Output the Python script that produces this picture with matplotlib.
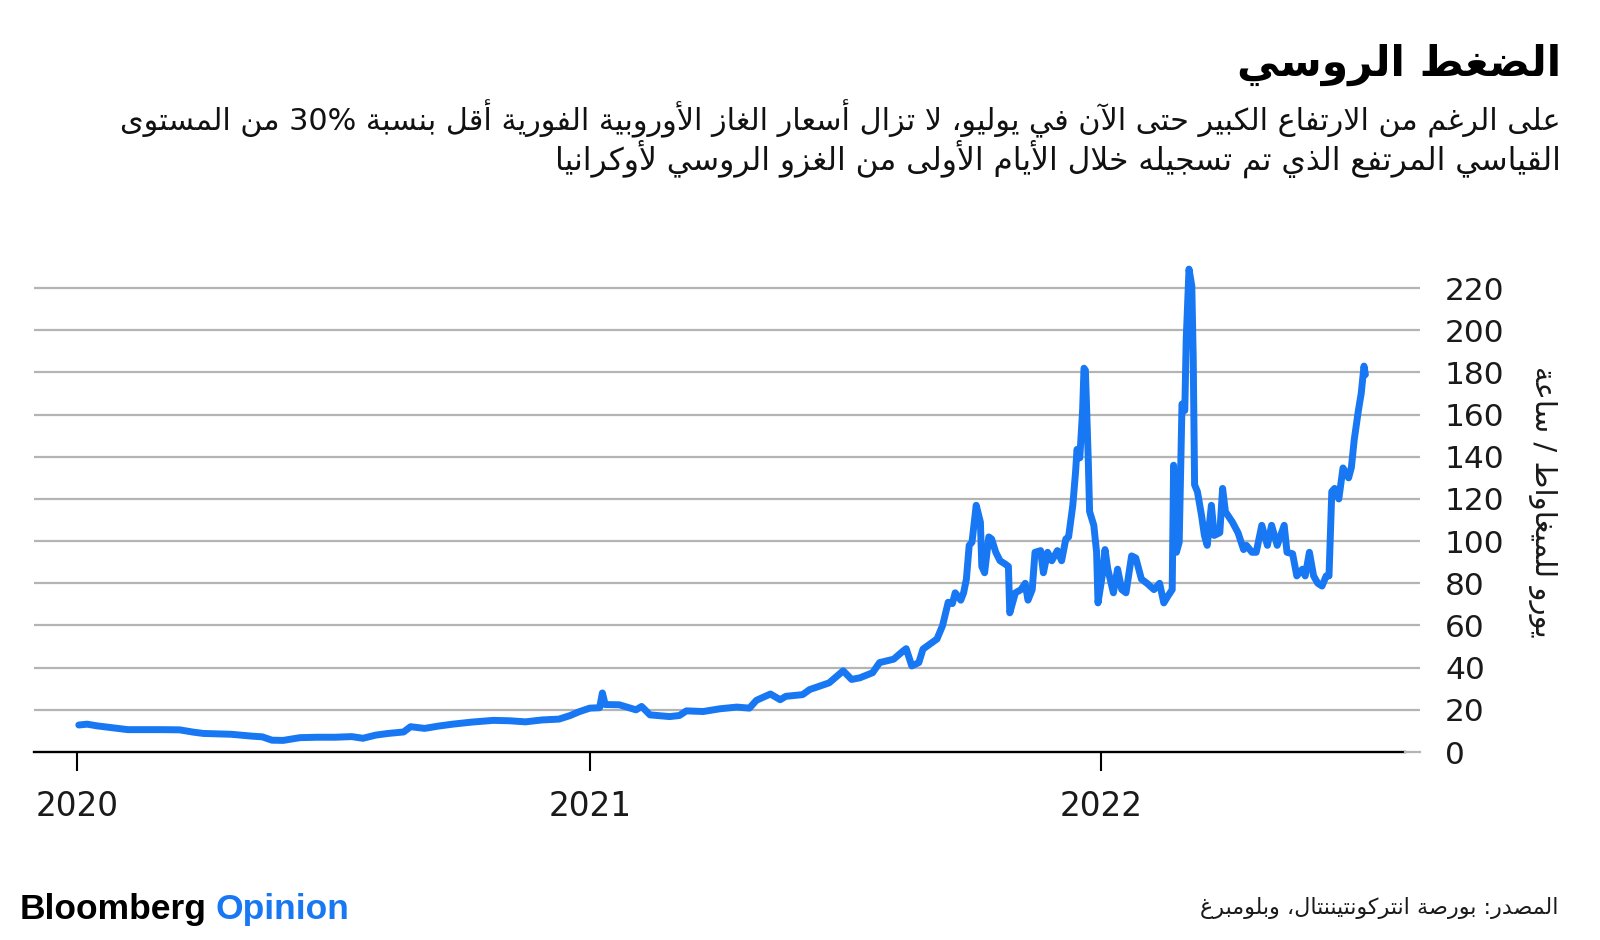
import re
import matplotlib
matplotlib.use("Agg")
import matplotlib.pyplot as plt
import pandas as pd

# ---------------- text (logical order) ----------------
TITLE = "الضغط الروسي"
SUBTITLE_1 = "على الرغم من الارتفاع الكبير حتى الآن في يوليو، لا تزال أسعار الغاز الأوروبية الفورية أقل بنسبة 30% من المستوى"
SUBTITLE_2 = "القياسي المرتفع الذي تم تسجيله خلال الأيام الأولى من الغزو الروسي لأوكرانيا"
Y_LABEL = "يورو للميغاواط / ساعة"
SOURCE = "المصدر: بورصة انتركونتيننتال، وبلومبرغ"
BRAND_1 = "Bloomberg"
BRAND_2 = "Opinion"

# ---------------- data ----------------
dates = [
    "2020-01-02", "2020-01-08", "2020-01-15", "2020-01-27", "2020-02-06", "2020-02-20",
    "2020-03-02", "2020-03-14", "2020-03-24", "2020-03-31", "2020-04-10", "2020-04-20",
    "2020-05-05", "2020-05-12", "2020-05-19", "2020-05-27", "2020-06-08", "2020-06-20",
    "2020-07-03", "2020-07-15", "2020-07-23", "2020-08-01", "2020-08-10", "2020-08-21",
    "2020-08-26", "2020-09-05", "2020-09-15", "2020-09-25", "2020-10-09", "2020-10-24",
    "2020-11-05", "2020-11-16", "2020-11-28", "2020-12-10", "2020-12-18", "2020-12-24",
    "2021-01-01", "2021-01-08", "2021-01-10", "2021-01-12", "2021-01-22", "2021-02-03",
    "2021-02-07", "2021-02-13", "2021-02-27", "2021-03-06", "2021-03-11", "2021-03-23",
    "2021-04-04", "2021-04-16", "2021-04-25", "2021-04-30", "2021-05-10", "2021-05-17",
    "2021-05-21", "2021-06-02", "2021-06-07", "2021-06-21", "2021-07-01", "2021-07-07",
    "2021-07-13", "2021-07-22", "2021-07-27", "2021-08-06", "2021-08-13", "2021-08-15",
    "2021-08-19", "2021-08-24", "2021-08-27", "2021-09-06", "2021-09-10", "2021-09-14",
    "2021-09-17", "2021-09-19", "2021-09-23", "2021-09-25", "2021-09-27", "2021-09-29",
    "2021-10-01", "2021-10-04", "2021-10-07", "2021-10-08", "2021-10-10", "2021-10-13",
    "2021-10-15", "2021-10-18", "2021-10-21", "2021-10-25", "2021-10-27", "2021-10-28",
    "2021-11-01", "2021-11-05", "2021-11-08", "2021-11-10", "2021-11-13", "2021-11-15",
    "2021-11-19", "2021-11-21", "2021-11-24", "2021-11-27", "2021-12-01", "2021-12-04",
    "2021-12-07", "2021-12-09", "2021-12-12", "2021-12-14", "2021-12-15", "2021-12-17",
    "2021-12-19", "2021-12-20", "2021-12-21", "2021-12-23", "2021-12-24", "2021-12-27",
    "2021-12-29", "2021-12-30", "2022-01-02", "2022-01-04", "2022-01-06", "2022-01-10",
    "2022-01-13", "2022-01-16", "2022-01-19", "2022-01-23", "2022-01-26", "2022-01-30",
    "2022-02-03", "2022-02-08", "2022-02-12", "2022-02-15", "2022-02-18", "2022-02-21",
    "2022-02-22", "2022-02-24", "2022-02-26", "2022-02-28", "2022-03-02", "2022-03-03",
    "2022-03-05", "2022-03-07", "2022-03-08", "2022-03-09", "2022-03-11", "2022-03-14",
    "2022-03-16", "2022-03-18", "2022-03-21", "2022-03-23", "2022-03-27", "2022-03-29",
    "2022-03-31", "2022-04-05", "2022-04-09", "2022-04-13", "2022-04-15", "2022-04-19",
    "2022-04-22", "2022-04-26", "2022-04-30", "2022-05-03", "2022-05-07", "2022-05-12",
    "2022-05-14", "2022-05-18", "2022-05-21", "2022-05-25", "2022-05-27", "2022-05-30",
    "2022-06-02", "2022-06-05", "2022-06-08", "2022-06-11", "2022-06-13", "2022-06-15",
    "2022-06-17", "2022-06-20", "2022-06-23", "2022-06-27", "2022-06-29", "2022-07-01",
    "2022-07-04", "2022-07-06", "2022-07-08", "2022-07-09",
]
prices = [
    12.8, 13.2, 12.4, 11.4, 10.6, 10.6,
    10.6, 10.5, 9.4, 8.8, 8.6, 8.4,
    7.5, 7.2, 5.6, 5.5, 6.8, 7.0,
    7.0, 7.3, 6.5, 8.0, 8.8, 9.5,
    12.0, 11.2, 12.3, 13.2, 14.2, 15.0,
    14.8, 14.3, 15.2, 15.6, 17.3, 19.0,
    20.8, 21.0, 28.0, 22.5, 22.4, 20.0,
    21.6, 17.6, 16.8, 17.3, 19.5, 19.2,
    20.5, 21.3, 20.8, 24.5, 27.5, 24.8,
    26.4, 27.2, 29.6, 32.8, 38.5, 34.4,
    35.2, 37.6, 42.4, 44.0, 48.0, 49.0,
    40.8, 42.4, 48.8, 53.6, 60.0, 71.0,
    70.4, 75.5, 72.0, 75.5, 82.0, 98.0,
    99.5, 117.0, 109.0, 88.0, 85.0, 102.0,
    101.0, 94.7, 90.7, 89.0, 88.0, 66.0,
    75.5, 77.0, 80.0, 72.0, 77.0, 94.7,
    95.5, 85.0, 94.7, 90.7, 95.5, 90.7,
    101.0, 102.0, 117.0, 133.0, 143.5, 139.5,
    162.0, 182.0, 181.0, 139.5, 114.0, 107.5,
    94.7, 70.7, 83.5, 96.0, 86.7, 75.5,
    86.7, 77.0, 75.5, 93.0, 92.0, 82.0,
    80.0, 77.0, 80.0, 70.7, 74.0, 77.0,
    136.0, 94.7, 99.5, 165.0, 162.0, 195.5,
    229.0, 221.0, 187.5, 126.7, 123.5, 112.0,
    102.7, 98.0, 117.0, 102.7, 104.0, 125.0,
    114.0, 109.0, 104.0, 96.0, 98.0, 94.7,
    94.7, 107.5, 98.0, 107.5, 98.0, 107.5,
    94.7, 94.0, 83.5, 86.7, 83.5, 94.7,
    83.5, 80.0, 78.7, 83.5, 83.5, 123.5,
    125.0, 120.0, 134.7, 130.0, 135.0, 148.0,
    162.0, 170.0, 183.0, 179.0,
]
year_ticks = ["2020-01-01", "2021-01-01", "2022-01-01"]
year_labels = ["2020", "2021", "2022"]
y_ticks = [0, 20, 40, 60, 80, 100, 120, 140, 160, 180, 200, 220]

# ---------------- Arabic shaping (presentation forms + visual order) ----------------
_ORDER = [(0x0621, 1), (0x0622, 2), (0x0623, 2), (0x0624, 2), (0x0625, 2), (0x0626, 4),
          (0x0627, 2), (0x0628, 4), (0x0629, 2), (0x062A, 4), (0x062B, 4), (0x062C, 4),
          (0x062D, 4), (0x062E, 4), (0x062F, 2), (0x0630, 2), (0x0631, 2), (0x0632, 2),
          (0x0633, 4), (0x0634, 4), (0x0635, 4), (0x0636, 4), (0x0637, 4), (0x0638, 4),
          (0x0639, 4), (0x063A, 4), (0x0641, 4), (0x0642, 4), (0x0643, 4), (0x0644, 4),
          (0x0645, 4), (0x0646, 4), (0x0647, 4), (0x0648, 2), (0x0649, 2), (0x064A, 4)]
FORMS = {}
_s = 0xFE80
for _code, _n in _ORDER:
    FORMS[chr(_code)] = [chr(_s + i) for i in range(_n)]
    _s += _n
LAM_ALEF = {"\u0622": 0xFEF5, "\u0623": 0xFEF7, "\u0625": 0xFEF9, "\u0627": 0xFEFB}


def shape(text):
    units = []
    i = 0
    while i < len(text):
        c = text[i]
        if c == "\u0644" and i + 1 < len(text) and text[i + 1] in LAM_ALEF:
            units.append(("LA", text[i + 1]))
            i += 2
        else:
            units.append(("C", c))
            i += 1

    def joins_next(u):
        return u[0] == "C" and u[1] in FORMS and len(FORMS[u[1]]) == 4

    def is_joining(u):
        return u[0] == "LA" or (u[1] in FORMS and len(FORMS[u[1]]) >= 2)

    res = []
    for k, u in enumerate(units):
        prev_ok = k > 0 and joins_next(units[k - 1]) and is_joining(u)
        if u[0] == "LA":
            res.append(chr(LAM_ALEF[u[1]] + (1 if prev_ok else 0)))
            continue
        c = u[1]
        if c not in FORMS:
            res.append(c)
            continue
        f = FORMS[c]
        next_ok = joins_next(u) and k + 1 < len(units) and is_joining(units[k + 1])
        if len(f) == 1:
            res.append(f[0])
        elif len(f) == 2:
            res.append(f[1] if prev_ok else f[0])
        else:
            if prev_ok and next_ok:
                res.append(f[3])
            elif prev_ok:
                res.append(f[1])
            elif next_ok:
                res.append(f[2])
            else:
                res.append(f[0])
    shaped = "".join(res)
    tokens = re.findall(r"[0-9A-Za-z%.]+|.", shaped)
    return "".join(reversed(tokens))


# ---------------- figure ----------------
W_PX, H_PX = 1600, 940
fig = plt.figure(figsize=(W_PX / 100, H_PX / 100), dpi=100)
fig.patch.set_facecolor("white")

BLUE = "#1877f2"
GRID = "#b4b4b4"
AR_FONT = ["DejaVu Sans"]
NUM_FONT = ["DejaVu Sans"]

ax_l, ax_r = 34 / W_PX, 1420 / W_PX
ax_b, ax_t = 1 - 752 / H_PX, 1 - 267 / H_PX
ax = fig.add_axes([ax_l, ax_b, ax_r - ax_l, ax_t - ax_b])

x = pd.to_datetime(dates)
ax.plot(x, prices, color=BLUE, lw=5.0, solid_joinstyle="round", solid_capstyle="round",
        zorder=4, clip_on=False)

ax.set_xlim(pd.Timestamp("2019-12-01"), pd.Timestamp("2022-08-17"))
ax.set_ylim(0, 230)

for v in y_ticks[1:]:
    ax.axhline(v, color=GRID, lw=1.6, zorder=1)
ax.axhline(0, xmin=0, xmax=0.989, color="black", lw=1.7, zorder=3, clip_on=False)
ax.axhline(0, xmin=0.989, xmax=1.0, color=GRID, lw=1.6, zorder=3, clip_on=False)

for sp in ax.spines.values():
    sp.set_visible(False)

ax.yaxis.tick_right()
ax.set_yticks(y_ticks)
ax.set_yticklabels([str(v) for v in y_ticks])
ax.tick_params(axis="y", length=0, pad=18, labelsize=22.5, labelcolor="#1a1a1a")

ax.set_xticks(pd.to_datetime(year_ticks))
ax.set_xticklabels(year_labels)
ax.tick_params(axis="x", length=14, width=1.5, color="black", pad=13, labelsize=23.5,
               labelcolor="#1a1a1a")
for lab in ax.get_xticklabels() + ax.get_yticklabels():
    lab.set_family(NUM_FONT)

# ---------------- texts ----------------
RX = 1561 / W_PX
fig.text(RX, 1 - 65 / H_PX, shape(TITLE), ha="right", va="center", fontsize=30.5,
         fontweight="bold", family=AR_FONT, color="black")
fig.text(RX, 1 - 119 / H_PX, shape(SUBTITLE_1), ha="right", va="center", fontsize=21.8,
         family=AR_FONT, color="#111111")
fig.text(RX, 1 - 159 / H_PX, shape(SUBTITLE_2), ha="right", va="center", fontsize=22.5,
         family=AR_FONT, color="#111111")
fig.text(1542 / W_PX, 1 - 502 / H_PX, shape(Y_LABEL), ha="center", va="center",
         rotation=270, fontsize=21, family=AR_FONT, color="#1a1a1a")
fig.text(1559 / W_PX, 1 - 908 / H_PX, shape(SOURCE), ha="right", va="center",
         fontsize=16, family=AR_FONT, color="#1a1a1a")

t1 = fig.text(20 / W_PX, 1 - 910 / H_PX, BRAND_1, ha="left", va="center", fontsize=25.5,
              fontweight="bold", family=["Liberation Sans"], color="black")
fig.canvas.draw()
bb = t1.get_window_extent(renderer=fig.canvas.get_renderer())
fig.text((bb.x1 + 9) / W_PX, 1 - 910 / H_PX, BRAND_2, ha="left", va="center", fontsize=25.5,
         fontweight="bold", family=["Liberation Sans"], color=BLUE)

fig.savefig("out.png", dpi=100, facecolor="white")
